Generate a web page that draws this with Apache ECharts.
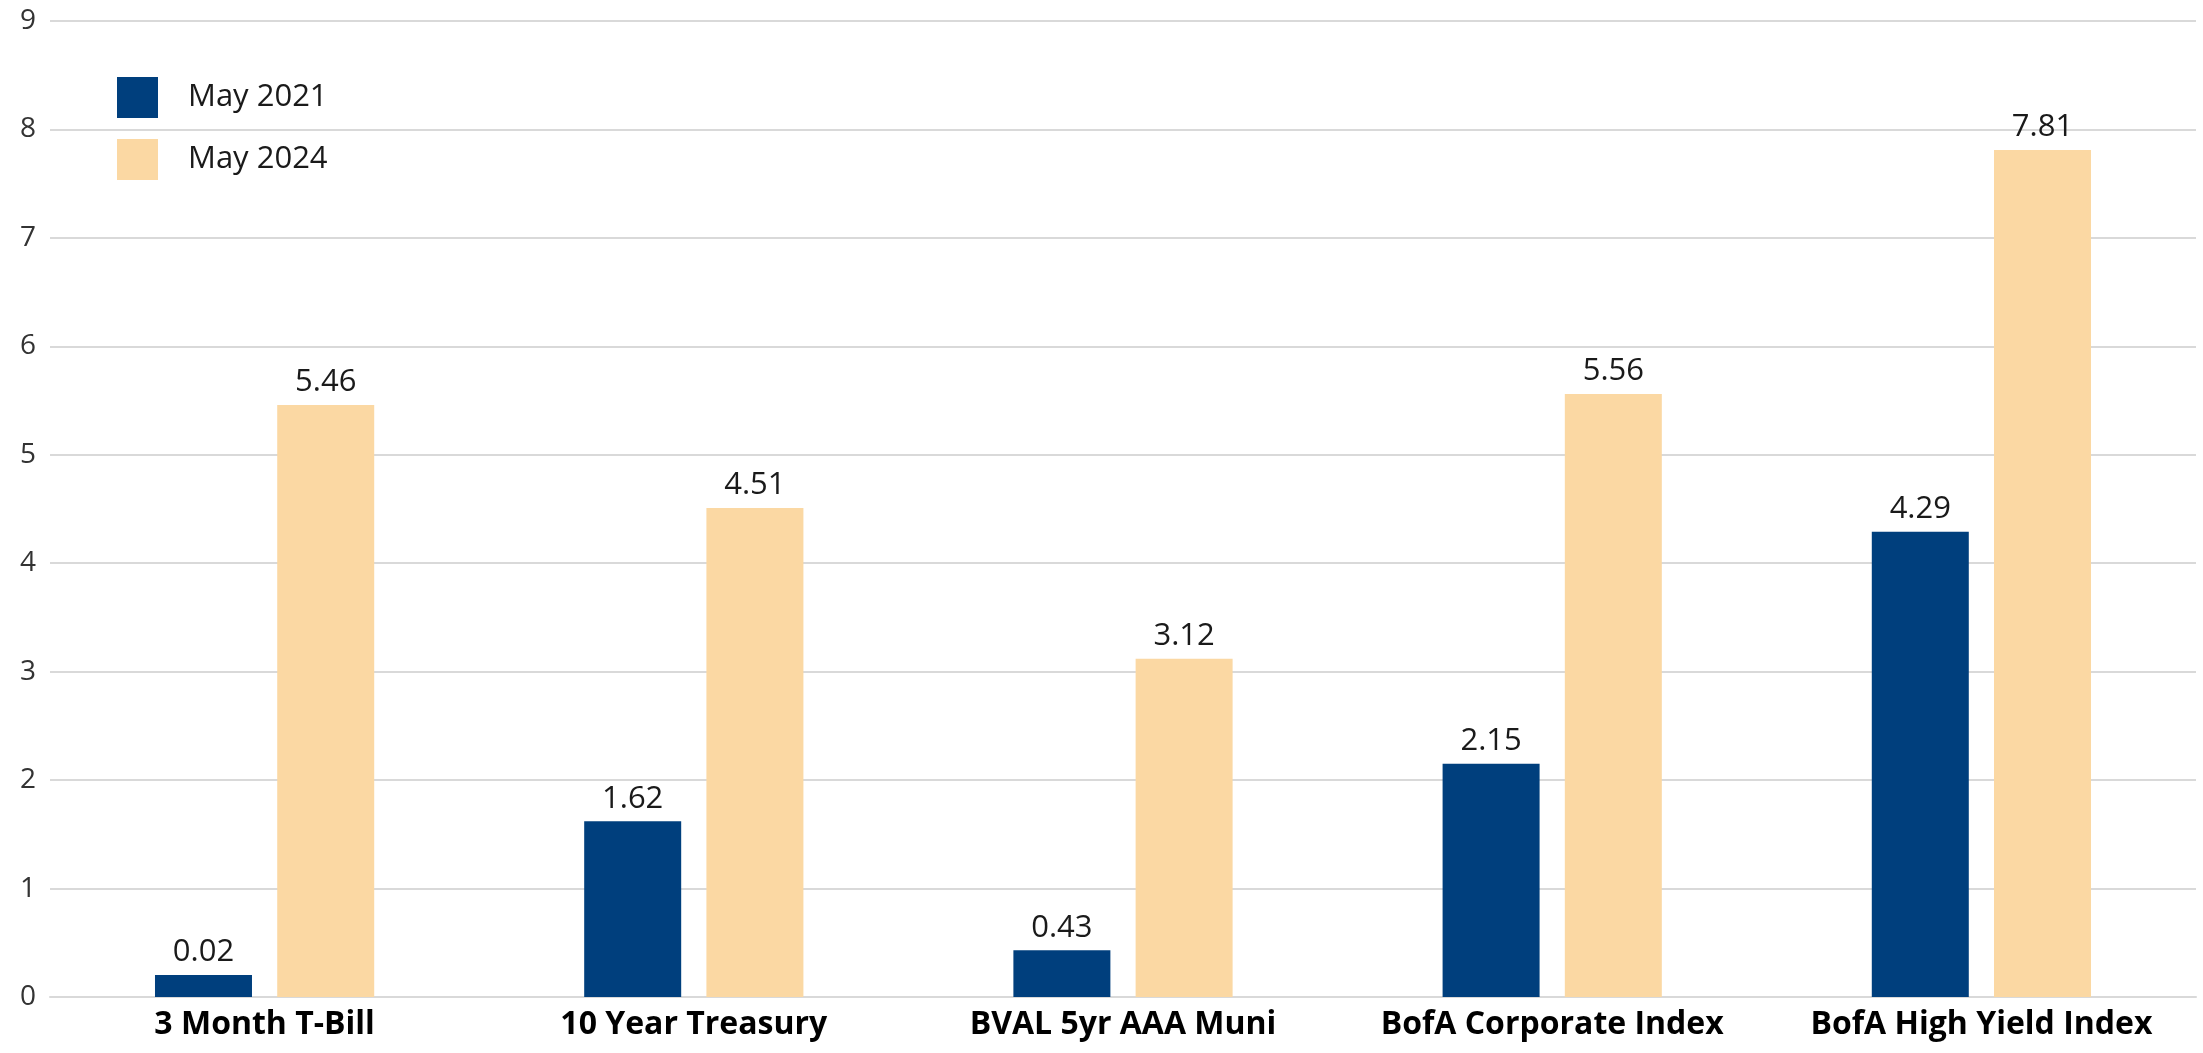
<!DOCTYPE html>
<html>
<head>
<meta charset="utf-8">
<script src="https://cdn.jsdelivr.net/npm/echarts@6/dist/echarts.min.js"></script>
<style>
  html, body { margin: 0; padding: 0; background: #fff; }
  #chart { width: 2203px; height: 1053px; }
</style>
</head>
<body>
<div id="chart"></div>
<script>
// categories and yields (%)
const categories = ["3 Month T-Bill", "10 Year Treasury", "BVAL 5yr AAA Muni", "BofA Corporate Index", "BofA High Yield Index"];
const may2021 = [0.02, 1.62, 0.43, 2.15, 4.29];
const may2024 = [5.46, 4.51, 3.12, 5.56, 7.81];
const yTicks = [0, 1, 2, 3, 4, 5, 6, 7, 8, 9];

const myChart = echarts.init(document.getElementById("chart"));

const labelStyle = {
  show: true,
  position: "top",
  distance: 7,
  fontFamily: "Open Sans",
  fontSize: 31,
  color: "#1a1a1a",
  formatter: (p) => p.value.toFixed(2),
};

myChart.setOption({
  animation: false,
  textStyle: { fontFamily: "Open Sans" },
  grid: { left: 50, right: 7, top: 21, bottom: 56 },
  legend: {
    orient: "vertical",
    left: 117,
    top: 77,
    padding: 0,
    itemWidth: 41,
    itemHeight: 41,
    itemGap: 21,
    icon: "rect",
    textStyle: { fontFamily: "Open Sans", fontSize: 31, color: "#1a1a1a", padding: [0, 0, 0, 25] },
    data: ["May 2021", "May 2024"],
  },
  xAxis: {
    type: "category",
    data: categories,
    axisTick: { show: false },
    axisLine: { lineStyle: { color: "#d9d9d9", width: 2 } },
    axisLabel: {
      interval: 0,
      margin: 12,
      fontFamily: "Open Sans",
      fontWeight: "bold",
      fontSize: 32,
      color: "#000",
    },
  },
  yAxis: {
    type: "value",
    min: yTicks[0],
    max: yTicks[yTicks.length - 1],
    interval: 1,
    axisLine: { show: false },
    axisTick: { show: false },
    splitLine: { lineStyle: { color: "#d9d9d9", width: 2 } },
    axisLabel: {
      margin: 14,
      fontFamily: "Open Sans",
      fontSize: 28,
      color: "#333",
    },
  },
  series: [
    {
      name: "May 2021",
      type: "bar",
      data: may2021,
      barWidth: 97,
      barGap: "26%",
      // tiny values still get a visible bar
      barMinHeight: 22,
      itemStyle: { color: "#003f7d" },
      label: labelStyle,
    },
    {
      name: "May 2024",
      type: "bar",
      data: may2024,
      barWidth: 97,
      itemStyle: { color: "#fbd8a3" },
      label: labelStyle,
    },
  ],
});
</script>
</body>
</html>
